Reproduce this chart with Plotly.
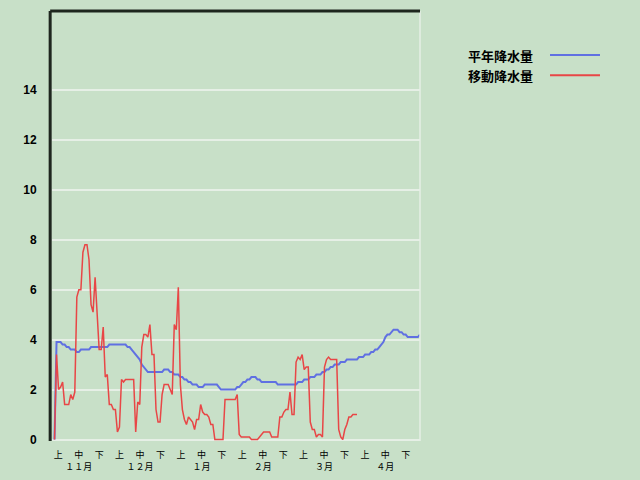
import plotly.graph_objects as go

# ---- data ----
normal_precip = [
    0, 3.9, 3.9, 3.9, 3.8, 3.8, 3.7, 3.7, 3.6, 3.6,
    3.6, 3.5, 3.5, 3.6, 3.6, 3.6, 3.6, 3.6, 3.7, 3.7,
    3.7, 3.7, 3.7, 3.7, 3.7, 3.7, 3.7, 3.8, 3.8, 3.8,
    3.8, 3.8, 3.8, 3.8, 3.8, 3.8, 3.7, 3.7, 3.6, 3.5,
    3.4, 3.3, 3.2, 3.0, 2.9, 2.8, 2.7, 2.7, 2.7, 2.7,
    2.7, 2.7, 2.7, 2.7, 2.8, 2.8, 2.8, 2.7, 2.7, 2.6,
    2.6, 2.6, 2.5, 2.5, 2.4, 2.4, 2.3, 2.3, 2.2, 2.2,
    2.2, 2.1, 2.1, 2.1, 2.2, 2.2, 2.2, 2.2, 2.2, 2.2,
    2.2, 2.1, 2.0, 2.0, 2.0, 2.0, 2.0, 2.0, 2.0, 2.0,
    2.1, 2.1, 2.2, 2.3, 2.3, 2.4, 2.4, 2.5, 2.5, 2.5,
    2.4, 2.4, 2.3, 2.3, 2.3, 2.3, 2.3, 2.3, 2.3, 2.3,
    2.2, 2.2, 2.2, 2.2, 2.2, 2.2, 2.2, 2.2, 2.2, 2.2,
    2.3, 2.3, 2.3, 2.4, 2.4, 2.4, 2.5, 2.5, 2.5, 2.6,
    2.6, 2.6, 2.7, 2.7, 2.8, 2.8, 2.9, 2.9, 3.0, 3.0,
    3.0, 3.1, 3.1, 3.1, 3.2, 3.2, 3.2, 3.2, 3.2, 3.2,
    3.3, 3.3, 3.3, 3.4, 3.4, 3.4, 3.5, 3.5, 3.6, 3.6,
    3.7, 3.8, 3.9, 4.1, 4.2, 4.2, 4.3, 4.4, 4.4, 4.4,
    4.3, 4.3, 4.2, 4.2, 4.1, 4.1, 4.1, 4.1, 4.1, 4.1,
    4.2,
]

moving_precip = [
    0, 3.4, 2.0, 2.1, 2.3, 1.4, 1.4, 1.4, 1.8, 1.6,
    1.9, 5.7, 6.0, 6.0, 7.5, 7.8, 7.8, 7.2, 5.4, 5.1,
    6.5, 4.9, 3.6, 3.6, 4.5, 2.5, 2.6, 1.4, 1.4, 1.2,
    1.2, 0.3, 0.5, 2.4, 2.3, 2.4, 2.4, 2.4, 2.4, 2.4,
    0.3, 1.5, 1.4, 3.7, 4.2, 4.2, 4.1, 4.6, 3.4, 3.4,
    1.2, 0.7, 0.7, 1.8, 2.2, 2.2, 2.2, 2.0, 1.8, 4.6,
    4.4, 6.1, 2.2, 1.2, 0.8, 0.6, 0.9, 0.8, 0.7, 0.4,
    0.8, 0.8, 1.4, 1.1, 1.0, 1.0, 0.9, 0.6, 0.6, 0,
    0, 0, 0, 0, 1.6, 1.6, 1.6, 1.6, 1.6, 1.6,
    1.8, 0.2, 0.1, 0.1, 0.1, 0.1, 0.1, 0, 0, 0,
    0, 0.1, 0.2, 0.3, 0.3, 0.3, 0.3, 0.1, 0.1, 0.1,
    0.1, 0.9, 0.9, 1.1, 1.2, 1.2, 1.9, 1.0, 1.0, 3.1,
    3.3, 3.2, 3.4, 2.8, 2.9, 2.9, 0.7, 0.4, 0.4, 0.1,
    0.2, 0.2, 0.1, 2.9, 3.2, 3.3, 3.2, 3.2, 3.2, 3.2,
    0.4, 0.1, 0, 0.4, 0.6, 0.9, 0.9, 1.0, 1.0, 1.0,
]

months = ["１１月", "１２月", "１月", "２月", "３月", "４月"]
dekads = ["上", "中", "下"]
series_names = ["平年降水量", "移動降水量"]
y_ticks = [0, 2, 4, 6, 8, 10, 12, 14]

# ---- styling ----
BG = "#C8E0C8"
GRID = "#E6EFE6"
BLUE = "#6070E2"
RED = "#E84646"
DARK = "#1E261E"

days_normal = list(range(len(normal_precip)))
days_moving = list(range(len(moving_precip)))

fig = go.Figure()
fig.add_trace(go.Scatter(x=days_normal, y=normal_precip, mode="lines",
                         line=dict(color=BLUE, width=2), name=series_names[0],
                         showlegend=False))
fig.add_trace(go.Scatter(x=days_moving, y=moving_precip, mode="lines",
                         line=dict(color=RED, width=1.5), name=series_names[1],
                         showlegend=False))

# x tick labels: 上 / 中(+month) / 下 evenly spaced
tick_step = 10.07
tick_start = 1.87
tickvals, ticktext = [], []
for mi, m in enumerate(months):
    for di, d in enumerate(dekads):
        tickvals.append(tick_start + tick_step * (mi * 3 + di))
        ticktext.append(d + ("<br>" + m if di == 1 else ""))

fig.update_layout(
    width=640, height=480,
    paper_bgcolor=BG, plot_bgcolor=BG,
    margin=dict(l=52, r=220, t=11, b=38.5, pad=0),
    xaxis=dict(range=[-1.23, 180.05], showgrid=False, zeroline=False,
               showline=False, tickmode="array", tickvals=tickvals,
               ticktext=ticktext, ticks="outside", ticklen=5,
               tickcolor="rgba(0,0,0,0)", tickangle=0, automargin=False,
               tickfont=dict(family="Noto Sans CJK JP", size=9, color="#000000")),
    yaxis=dict(range=[-0.06, 17.16], showgrid=True, gridcolor=GRID, gridwidth=2,
               zeroline=False, showline=False, tickmode="array",
               tickvals=y_ticks, ticks="outside", ticklen=12,
               tickcolor="rgba(0,0,0,0)", automargin=False,
               tickfont=dict(family="Liberation Sans", size=12, color="#000000",
                             weight="bold")),
    showlegend=False,
)

shapes = [
    # light right border
    dict(type="line", xref="paper", yref="paper", x0=1, x1=1, y0=0, y1=1,
         line=dict(color=GRID, width=1.5)),
    # thick dark top and left borders
    dict(type="line", xref="paper", yref="paper", x0=-0.005, x1=1, y0=1, y1=1,
         line=dict(color=DARK, width=3)),
    dict(type="line", xref="paper", yref="paper", x0=-0.005, x1=-0.005, y0=0, y1=1,
         line=dict(color=DARK, width=3)),
]

# manual legend on the right (text then line sample)
legend_colors = [BLUE, RED]
legend_y = [0.8974, 0.8508]
annotations = []
for name, col, ly in zip(series_names, legend_colors, legend_y):
    annotations.append(dict(xref="paper", yref="paper", x=1.125, y=ly,
                            xanchor="left", yanchor="middle", showarrow=False,
                            text="<b>" + name + "</b>",
                            font=dict(family="Noto Sans CJK JP", size=13, color="#000000")))
    shapes.append(dict(type="line", xref="paper", yref="paper",
                       x0=1.3533, x1=1.4891, y0=ly, y1=ly,
                       line=dict(color=col, width=2)))

fig.update_layout(shapes=shapes, annotations=annotations)
fig.write_html("out.html",
               config={"displayModeBar": False},
               post_script="document.body.style.margin='0';"
                           "document.body.style.background='" + BG + "';")
